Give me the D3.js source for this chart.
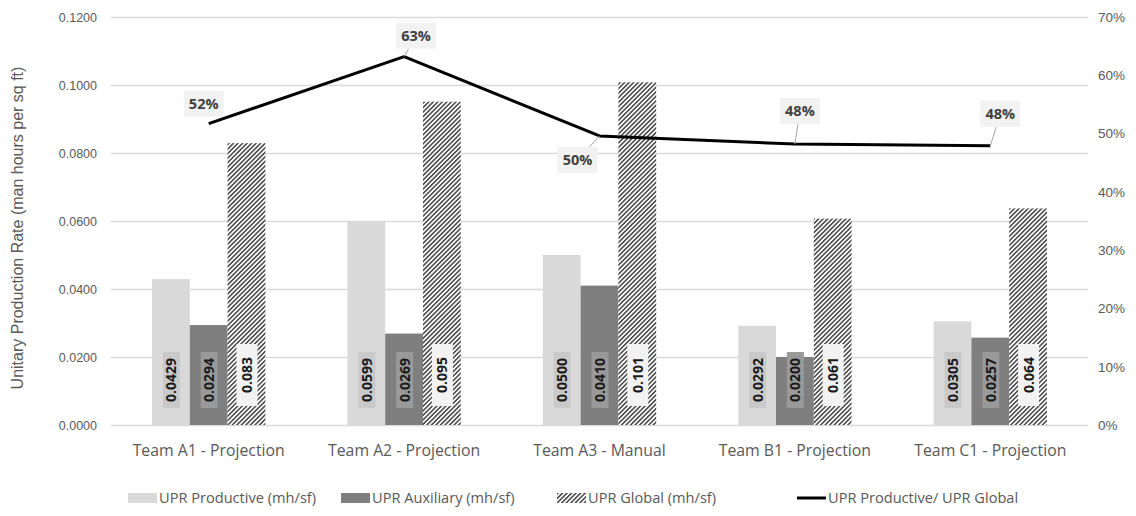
<!DOCTYPE html>
<html>
<head>
<meta charset="utf-8">
<script src="https://cdn.jsdelivr.net/npm/d3@7"></script>
<style>
  html, body { margin: 0; padding: 0; background: #fff; }
  svg { display: block; }
</style>
</head>
<body>
<svg id="chart" width="1136" height="516"></svg>
<script>
// ---- Data ----
const categories = ["Team A1 - Projection", "Team A2 - Projection", "Team A3 - Manual", "Team B1 - Projection", "Team C1 - Projection"];
const seriesNames = ["UPR Productive (mh/sf)", "UPR Auxiliary (mh/sf)", "UPR Global (mh/sf)"];
const lineName = "UPR Productive/ UPR Global";
const uprProductive = [0.0429, 0.0599, 0.0500, 0.0292, 0.0305];
const uprAuxiliary  = [0.0294, 0.0269, 0.0410, 0.0200, 0.0257];
const uprGlobal     = [0.0829, 0.0951, 0.1008, 0.0607, 0.0637];
const ratio         = [0.517, 0.632, 0.496, 0.482, 0.479];
const leftTicks  = [0, 0.02, 0.04, 0.06, 0.08, 0.10, 0.12];
const rightTicks = [0, 0.1, 0.2, 0.3, 0.4, 0.5, 0.6, 0.7];

// ---- Layout ----
const svg = d3.select("#chart");
const L = 111, R = 1088, T = 17, B = 425;
const grey = "#595959";

const defs = svg.append("defs");
const pat = defs.append("pattern").attr("id", "hatch")
  .attr("patternUnits", "userSpaceOnUse").attr("width", 3.2).attr("height", 3.2)
  .attr("patternTransform", "rotate(45)");
pat.append("rect").attr("width", 3.2).attr("height", 3.2).attr("fill", "#ffffff");
pat.append("rect").attr("width", 1.6).attr("height", 3.2).attr("fill", "#505050");

const x = d3.scaleBand().domain(categories).range([L, R]).paddingInner(0.42).paddingOuter(0.21);
const xs = d3.scaleBand().domain(seriesNames).range([0, x.bandwidth()]).padding(0);
const y = d3.scaleLinear().domain([0, 0.12]).range([B, T]);
const y2 = d3.scaleLinear().domain([0, 0.7]).range([B, T]);

// gridlines
svg.append("g").selectAll("line").data(leftTicks).join("line")
  .attr("x1", L).attr("x2", R)
  .attr("y1", d => y(d) + 0.5).attr("y2", d => y(d) + 0.5)
  .attr("stroke", "#d9d9d9").attr("stroke-width", 1.3);

// left axis
const yAxis = d3.axisLeft(y).tickValues(leftTicks).tickFormat(d3.format(".4f")).tickSize(0).tickPadding(0);
const gy = svg.append("g").attr("transform", `translate(${L - 14},0)`).call(yAxis);
gy.select(".domain").remove();
gy.selectAll("text").attr("fill", grey).attr("font-family", "Liberation Sans, Arial, sans-serif").attr("font-size", 12.5);

// right axis
const y2Axis = d3.axisRight(y2).tickValues(rightTicks).tickFormat(d3.format(".0%")).tickSize(0).tickPadding(0);
const gy2 = svg.append("g").attr("transform", `translate(${R + 10},0)`).call(y2Axis);
gy2.select(".domain").remove();
gy2.selectAll("text").attr("fill", grey).attr("font-family", "Liberation Sans, Arial, sans-serif").attr("font-size", 13.5);

// x axis
const xAxis = d3.axisBottom(x).tickSize(0).tickPadding(0);
const gx = svg.append("g").attr("transform", `translate(0,${B + 25})`).call(xAxis);
gx.select(".domain").remove();
gx.selectAll("text").attr("fill", grey).attr("font-family", "Open Sans, sans-serif").attr("font-size", 15.8).attr("dy", "0.35em");

// y title
svg.append("text").attr("transform", `translate(17,${(T + B) / 2 + 7}) rotate(-90)`)
  .attr("text-anchor", "middle").attr("dy", "0.35em").attr("fill", grey)
  .attr("font-family", "Liberation Sans, Arial, sans-serif").attr("font-size", 16)
  .text("Unitary Production Rate (man hours per sq ft)");

// bars
const seriesVals = [uprProductive, uprAuxiliary, uprGlobal];
const fills = ["#d9d9d9", "#7f7f7f", "url(#hatch)"];
const boxFills = ["#c9c9c9", "#999999", "#f2f2f2"];
const fmts = [d3.format(".4f"), d3.format(".4f"), d3.format(".3f")];

seriesNames.forEach((s, si) => {
  const g = svg.append("g");
  const data = categories.map((c, i) => ({c, v: seriesVals[si][i]}));
  g.selectAll("rect").data(data).join("rect")
    .attr("x", d => x(d.c) + xs(s))
    .attr("width", xs.bandwidth())
    .attr("y", d => y(d.v))
    .attr("height", d => B - y(d.v))
    .attr("fill", fills[si]);
});

// bar labels
seriesNames.forEach((s, si) => {
  const g = svg.append("g");
  const data = categories.map((c, i) => ({c, v: seriesVals[si][i]}));
  data.forEach(d => {
    const cx = x(d.c) + xs(s) + xs.bandwidth() / 2;
    const cy = si === 2 ? 375 : 380;
    const t = g.append("text")
      .attr("transform", `translate(${cx + 0.5},${cy}) rotate(-90)`)
      .attr("text-anchor", "middle").attr("dy", "0.36em")
      .attr("font-family", "Open Sans, sans-serif").attr("font-weight", "bold").attr("font-size", 14)
      .attr("fill", "#1a1a1a").text(fmts[si](d.v));
    const w = t.node().getComputedTextLength();
    const padH = si === 2 ? 13 : 6;
    const bw = si === 2 ? 21 : 17;
    g.insert("rect", "text")
      .attr("x", cx - bw / 2 + 0.5).attr("width", bw)
      .attr("y", cy - w / 2 - padH).attr("height", w + padH * 2)
      .attr("fill", boxFills[si]);
  });
});

// line
const pts = categories.map((c, i) => [x(c) + x.bandwidth() / 2, y2(ratio[i])]);
svg.append("path").attr("d", d3.line()(pts))
  .attr("fill", "none").attr("stroke", "#000").attr("stroke-width", 3).attr("stroke-linejoin", "round");

// line labels (offsets of label box centre from point)
const labelOffsets = [[-5, -20], [12, -21], [-22, 24], [5, -33], [10, -32]];
const lg = svg.append("g");
ratio.forEach((r, i) => {
  const [px, py] = pts[i];
  const [dx, dy] = labelOffsets[i];
  const bx = px + dx, by = py + dy;
  const bwid = 40, bh = 26;
  const tx = (bwid / 2) / Math.abs(dx || 1e-6), ty = (bh / 2) / Math.abs(dy || 1e-6);
  const tEdge = 1 - Math.min(tx, ty, 1);
  if (tEdge > 0.05 && i > 0) {
    lg.append("line").attr("x1", px).attr("y1", py)
      .attr("x2", px + dx * tEdge).attr("y2", py + dy * tEdge)
      .attr("stroke", "#a6a6a6").attr("stroke-width", 1);
  }
  lg.append("rect").attr("x", bx - bwid / 2).attr("y", by - bh / 2).attr("width", bwid).attr("height", bh).attr("fill", "#f2f2f2");
  lg.append("text").attr("x", bx).attr("y", by).attr("dy", "0.36em").attr("text-anchor", "middle")
    .attr("font-family", "Open Sans, sans-serif").attr("font-weight", "bold").attr("font-size", 14.5)
    .attr("fill", "#404040").text(d3.format(".0%")(r));
});

// legend
const legend = svg.append("g").attr("font-family", "Open Sans, sans-serif").attr("font-size", 14.6).attr("fill", grey);
const legendItems = [
  {name: seriesNames[0], x: 128, type: "rect", fill: fills[0]},
  {name: seriesNames[1], x: 341, type: "rect", fill: fills[1]},
  {name: seriesNames[2], x: 557, type: "rect", fill: fills[2]},
  {name: lineName, x: 797, type: "line"}
];
const ly = 498;
legendItems.forEach(it => {
  if (it.type === "rect") {
    legend.append("rect").attr("x", it.x).attr("y", ly - 5).attr("width", 29).attr("height", 10).attr("fill", it.fill);
  } else {
    legend.append("line").attr("x1", it.x).attr("x2", it.x + 29).attr("y1", ly).attr("y2", ly)
      .attr("stroke", "#000").attr("stroke-width", 3);
  }
  legend.append("text").attr("x", it.x + 31).attr("y", ly).attr("dy", "0.35em").text(it.name);
});
</script>
</body>
</html>
